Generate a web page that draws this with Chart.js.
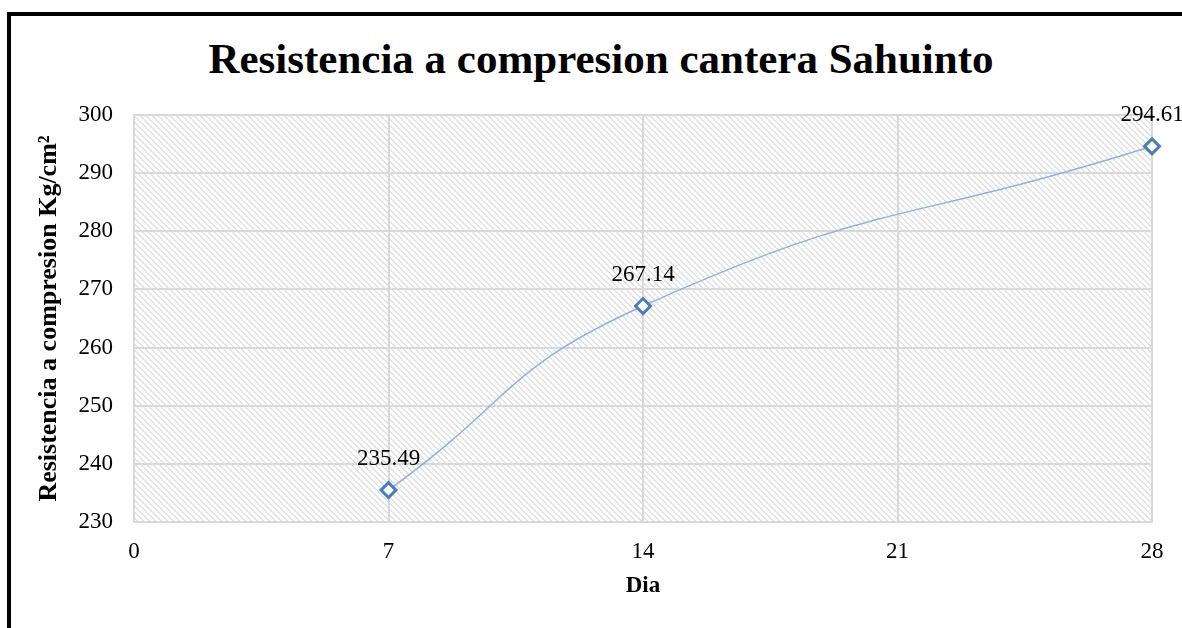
<!DOCTYPE html>
<html>
<head>
<meta charset="utf-8">
<script src="https://cdn.jsdelivr.net/npm/chart.js@4.4.1/dist/chart.umd.min.js"></script>
<style>
  html, body { margin: 0; padding: 0; background: #fff; overflow: hidden; }
  #wrap { position: relative; width: 1182px; height: 628px; overflow: hidden; }
  #frame { position: absolute; left: 7px; top: 12px; width: 1200px; height: 640px; border-left: 4px solid #000; border-top: 4px solid #000; }
  #cut { position: absolute; left: 5px; top: -19px; font: 20px 'Liberation Serif', serif; color: #aaa; }
  #title { position: absolute; left: 20px; width: 1162px; top: 38px; text-align: center; font: bold 43px 'Liberation Serif', serif; line-height: 42px; color: #000; white-space: nowrap; }
  canvas { position: absolute; left: 0; top: 0; }
</style>
</head>
<body>
<div id="wrap">
  <div id="cut">Cantera Sahuinto</div>
  <div id="frame"></div>
  <div id="title">Resistencia a compresion cantera Sahuinto</div>
  <canvas id="chart" width="1182" height="628"></canvas>
</div>
<script>
const DAYS = [7, 14, 28];
const STRENGTH = [235.49, 267.14, 294.61];
const X_TICKS = [0, 7, 14, 21, 28];
const Y_MIN = 230, Y_MAX = 300, Y_STEP = 10;

const SERIF = "'Liberation Serif', 'Times New Roman', serif";
const GRID = '#d9d9d9';

// light downward-diagonal hatch, like the Excel plot area fill
function hatch() {
  const c = document.createElement('canvas');
  c.width = 6; c.height = 6;
  const g = c.getContext('2d');
  g.fillStyle = '#fff';
  g.fillRect(0, 0, 6, 6);
  g.fillStyle = '#e2e2e2';
  for (let y = 0; y < 6; y++) {
    g.fillRect(y % 6, y, 1, 1);
    g.fillRect((y + 1) % 6, y, 1, 1);
  }
  return g.createPattern(c, 'repeat');
}

const hatchBg = {
  id: 'hatchBg',
  beforeDraw(chart) {
    const { ctx, chartArea: a } = chart;
    ctx.save();
    ctx.fillStyle = hatch();
    ctx.fillRect(a.left, a.top, a.right - a.left, a.bottom - a.top);
    ctx.restore();
  }
};

const pointLabels = {
  id: 'pointLabels',
  afterDatasetsDraw(chart) {
    const { ctx } = chart;
    ctx.save();
    ctx.font = '23px ' + SERIF;
    ctx.fillStyle = '#000';
    ctx.textAlign = 'center';
    ctx.textBaseline = 'middle';
    chart.getDatasetMeta(0).data.forEach((pt, i) => {
      ctx.fillText(STRENGTH[i].toFixed(2), pt.x, pt.y - 31);
    });
    ctx.restore();
  }
};

new Chart(document.getElementById('chart'), {
  type: 'line',
  data: {
    datasets: [{
      data: DAYS.map((d, i) => ({ x: d, y: STRENGTH[i] })),
      borderColor: '#8db3e2',
      borderWidth: 1.5,
      tension: 0.5,
      clip: false,
      pointStyle: 'rectRot',
      pointRadius: 7.5,
      pointBorderWidth: 3,
      pointBorderColor: '#4a7ebb',
      pointBackgroundColor: '#fff'
    }]
  },
  options: {
    responsive: false,
    animation: false,
    layout: { padding: { top: 115, right: 30, left: 0, bottom: 0 } },
    plugins: {
      legend: { display: false },
      tooltip: { enabled: false }
    },
    scales: {
      x: {
        type: 'linear',
        min: 0, max: 28,
        afterBuildTicks: s => { s.ticks = X_TICKS.map(v => ({ value: v })); },
        afterFit: s => { s.height = 106; },
        grid: { color: GRID, lineWidth: 2, drawTicks: false },
        border: { color: GRID, width: 2 },
        ticks: { color: '#000', font: { family: SERIF, size: 23 }, padding: 16, maxRotation: 0 },
        title: { display: true, text: 'Dia', color: '#000', font: { family: SERIF, size: 23, weight: 'bold' }, padding: { top: 0, bottom: 28 } }
      },
      y: {
        min: Y_MIN, max: Y_MAX,
        afterFit: s => { s.width = 134; },
        grid: { color: GRID, lineWidth: 2, drawTicks: false },
        border: { color: GRID, width: 2 },
        ticks: { stepSize: Y_STEP, color: '#000', font: { family: SERIF, size: 23 }, padding: 21 },
        title: { display: true, text: 'Resistencia a compresion Kg/cm²', color: '#000', font: { family: SERIF, size: 26, weight: 'bold' }, padding: { top: 34, bottom: 0 } }
      }
    }
  },
  plugins: [hatchBg, pointLabels]
});
</script>
</body>
</html>
